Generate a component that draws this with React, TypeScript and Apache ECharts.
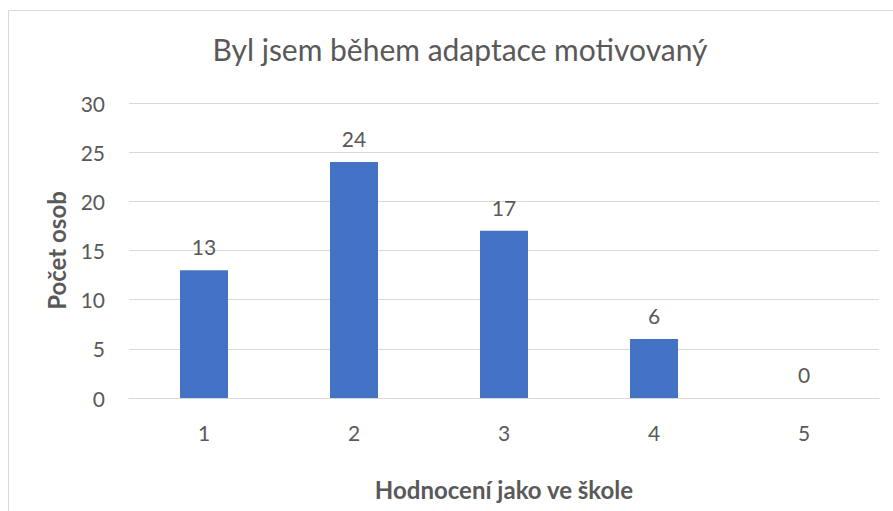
import React, { useEffect, useRef } from "react";
import * as echarts from "echarts";

const categories = ["1", "2", "3", "4", "5"];
const values = [13, 24, 17, 6, 0];
const titleText = "Byl jsem během adaptace motivovaný";
const xName = "Hodnocení jako ve škole";
const yName = "Počet osob";

const FONT = "Lato, 'Open Sans', sans-serif";
const GREY = "#595959";

export default function App() {
  const ref = useRef<HTMLDivElement>(null);
  useEffect(() => {
    if (!ref.current) return;
    const chart = echarts.init(ref.current, null, { renderer: "svg" });
    chart.setOption({
      animation: false,
      textStyle: { fontFamily: FONT },
      title: {
        text: titleText,
        left: 455,
        top: 29,
        textAlign: "center",
        textStyle: { fontFamily: FONT, fontSize: 30, fontWeight: "normal", color: GREY },
      },
      graphic: [
        {
          type: "rect",
          shape: { x: 8.5, y: 10.5, width: 900, height: 600 },
          style: { fill: "none", stroke: "#d9d9d9", lineWidth: 1 },
          silent: true,
          z: -1,
        },
      ],
      grid: { left: 129, right: 14, top: 103, bottom: 113 },
      xAxis: {
        type: "category",
        data: categories,
        name: xName,
        nameLocation: "middle",
        nameGap: 79,
        nameTextStyle: { fontFamily: FONT, fontSize: 24, fontWeight: "bold", color: GREY },
        axisLine: { lineStyle: { color: "#d9d9d9", width: 1 } },
        axisTick: { show: false },
        axisLabel: { color: GREY, fontSize: 21, margin: 24, fontFamily: FONT },
      },
      yAxis: {
        type: "value",
        min: 0,
        max: 30,
        interval: 5,
        name: yName,
        nameLocation: "middle",
        nameGap: 61,
        nameTextStyle: { fontFamily: FONT, fontSize: 24, fontWeight: "bold", color: GREY },
        axisLine: { show: false },
        axisTick: { show: false },
        axisLabel: { color: GREY, fontSize: 21, margin: 24, fontFamily: FONT },
        splitLine: { lineStyle: { color: "#d9d9d9", width: 1 } },
      },
      series: [
        {
          type: "bar",
          data: values,
          barWidth: 48,
          itemStyle: { color: "#4472c4" },
          label: {
            show: true,
            position: "top",
            distance: 13,
            color: GREY,
            fontSize: 21,
            fontFamily: FONT,
          },
        },
      ],
    });
    return () => chart.dispose();
  }, []);
  return (
    <div
      ref={ref}
      style={{ position: "absolute", left: 0, top: 0, width: 893, height: 511, background: "#fff" }}
    />
  );
}
